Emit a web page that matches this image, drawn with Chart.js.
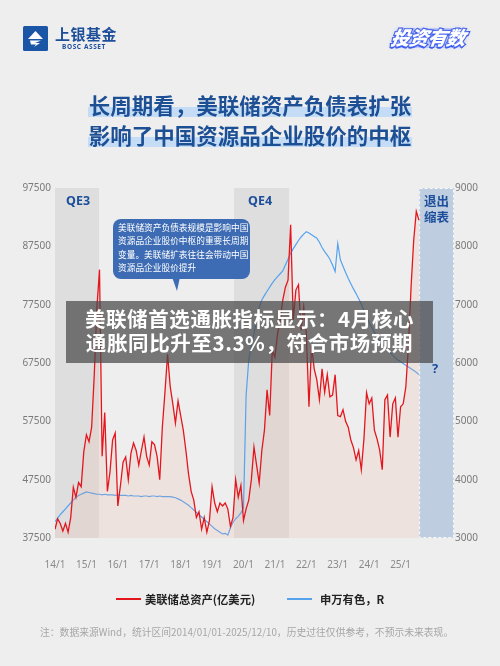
<!DOCTYPE html>
<html><head><meta charset="utf-8">
<script src="https://cdn.jsdelivr.net/npm/chart.js@4.4.0/dist/chart.umd.min.js"></script>
<style>
html,body{margin:0;padding:0;}
body{width:500px;height:666px;background:#eeeeee;position:relative;overflow:hidden;font-family:"Noto Sans CJK SC","Noto Sans",sans-serif;}
.abs{position:absolute;white-space:nowrap;}
#c{position:absolute;left:0;top:0;}
</style></head>
<body>
<canvas id="c" width="500" height="666"></canvas>

<!-- header -->
<svg class="abs" style="left:23px;top:26px" width="25" height="25" viewBox="0 0 25 25">
  <rect x="0" y="0" width="25" height="25" rx="1.5" fill="#1b55a6"/>
  <path d="M12.5 5 L20 13 L5 13 Z" fill="#fff"/>
  <path d="M7 14.5 L18 14.5 L12 17 L17 17 L11 21 L13 18.5 L8 18.5 Z" fill="#fff"/>
</svg>
<div class="abs" style="left:55px;top:24px;font-size:15px;font-weight:bold;color:#1d4e9a;letter-spacing:0.5px;line-height:20px">上银基金</div>
<div class="abs" style="left:62px;top:42px;font-size:6.5px;font-weight:bold;color:#1d4e9a;letter-spacing:0.6px;font-family:'Noto Sans',sans-serif;line-height:9px">BOSC ASSET</div>
<div class="abs" style="left:394px;top:28px;width:70px;height:20px;border-radius:8px;background:rgba(120,140,255,0.35)"></div>
<div class="abs" style="left:391px;top:24px;font-size:19px;font-weight:900;font-style:italic;color:#fff;-webkit-text-stroke:2.4px #2f4fe2;paint-order:stroke fill;text-shadow:0 2px 0 #3e5df0,0 0 4px #9fb5ff;line-height:26px;letter-spacing:-0.5px;transform:skewX(-8deg)">投资有数</div>

<!-- title -->
<div class="abs" style="left:88px;top:107px;width:324px;height:10px;background:#c4dcf6"></div>
<div class="abs" style="left:88px;top:137px;width:324px;height:10px;background:#c4dcf6"></div>
<div class="abs" style="left:0;top:91px;width:500px;text-align:center;font-size:21.5px;font-weight:bold;color:#1d4f95;line-height:28px">长周期看，美联储资产负债表扩张</div>
<div class="abs" style="left:0;top:121px;width:500px;text-align:center;font-size:21.5px;font-weight:bold;color:#1d4f95;line-height:28px">影响了中国资源品企业股价的中枢</div>

<!-- band labels -->
<div class="abs" style="left:66px;top:193px;font-size:12.5px;font-weight:bold;color:#1d4e9a;line-height:16px;font-family:'Noto Sans',sans-serif">QE3</div>
<div class="abs" style="left:248px;top:193px;font-size:12.5px;font-weight:bold;color:#1d4e9a;line-height:16px;font-family:'Noto Sans',sans-serif">QE4</div>
<div class="abs" style="left:424px;top:193px;font-size:12.5px;font-weight:bold;color:#1d4e9a;line-height:16px">退出<br>缩表</div>
<div class="abs" style="left:432px;top:360px;font-size:13px;font-weight:bold;color:#1d4e9a;line-height:16px;font-family:'Noto Sans',sans-serif">?</div>

<!-- bubble -->
<div class="abs" style="left:113px;top:219px;width:137px;height:60px;background:#3e6cb4;border-radius:8px"></div>
<svg class="abs" style="left:170px;top:277px" width="12" height="16"><path d="M2 0 L10 0 L7 14 Z" fill="#3e6cb4"/></svg>
<div class="abs" style="left:118px;top:221px;font-size:8.7px;color:#fff;line-height:13.4px">美联储资产负债表规模是影响中国<br>资源品企业股价中枢的重要长周期<br>变量。美联储扩表往往会带动中国<br>资源品企业股价提升</div>

<!-- overlay -->
<div class="abs" style="left:66px;top:301px;width:367px;height:62px;background:rgba(72,72,72,0.72)"></div>
<div class="abs" style="left:66px;top:306px;width:367px;text-align:center;font-size:20.5px;font-weight:bold;color:#fff;line-height:24px;letter-spacing:0.6px">美联储首选通胀指标显示：4月核心<br>通胀同比升至3.3%，符合市场预期</div>

<!-- legend -->
<div class="abs" style="left:116px;top:598px;width:25px;height:2px;background:#e3161e"></div>
<div class="abs" style="left:145px;top:591px;font-size:11.3px;font-weight:bold;color:#222;line-height:16px">美联储总资产(亿美元)</div>
<div class="abs" style="left:287px;top:598px;width:25px;height:2px;background:#57a2ee"></div>
<div class="abs" style="left:320px;top:591px;font-size:11.3px;font-weight:bold;color:#222;line-height:16px">申万有色，R</div>

<!-- footer -->
<div class="abs" style="left:40px;top:625px;font-size:9.8px;color:#a6a6a6;line-height:14px">注：数据来源Wind，统计区间2014/01/01-2025/12/10，历史过往仅供参考，不预示未来表现。</div>

<script>
// ---- data ----
const startYear = 2014;
const xTickLabels = ['14/1','15/1','16/1','17/1','18/1','19/1','20/1','21/1','22/1','23/1','24/1','25/1'];
const leftTicks = [37500, 47500, 57500, 67500, 77500, 87500, 97500];
const rightTicks = [3000, 4000, 5000, 6000, 7000, 8000, 9000];
// red series (monthly, right axis)
const redSeries = [
3150,3330,3250,3120,3250,3100,3350,3870,3700,3950,
3880,4480,4770,4650,4900,5800,6950,7600,4400,5150,
3800,4130,4680,4800,3550,3900,4300,4390,4000,4450,
4630,4500,4250,4500,4730,4400,4250,4650,4600,4400,
4000,4900,5500,6150,5600,5300,4970,5350,5100,4850,
4500,4100,3800,3650,3350,3450,3150,3350,3100,3300,
3880,3600,3450,3600,3550,3600,3500,3200,3350,4000,
3700,3900,3300,3500,3650,4000,4560,4250,3940,4500,
4850,5540,5100,6220,6100,6500,6740,7080,7300,7420,
8370,6740,7250,7340,6560,6960,6500,5250,6300,5900,
5710,5370,5900,5500,5800,5420,5450,5800,5100,5080,
5200,5000,4900,4680,4550,4340,4500,4170,4700,5490,
5300,5400,4850,4700,4510,4170,5370,5450,4730,5300,
5400,4730,5250,5300,5590,6300,7300,8100,8600,8450];
// blue series (monthly, left axis)
const blueSeries = [
40300,40900,41500,42000,42500,43000,43500,44000,44500,44800,
45000,45200,45400,45300,45200,45100,45000,45000,44900,45000,
44900,44900,44900,44800,44900,44800,44800,44800,44700,44800,
44700,44700,44700,44600,44700,44700,44600,44700,44700,44600,
44700,44600,44600,44600,44600,44500,44400,44200,44000,43700,
43400,43100,42700,42300,41900,41500,41100,40700,40300,39900,
39500,39100,38800,38500,38200,38300,38000,39200,40200,40800,
41200,41800,42600,62000,68000,70500,72500,75000,77000,78300,
79100,79800,80500,81200,81800,82300,82800,83300,84300,85300,
86300,87100,87800,88500,89100,89600,90000,89800,89500,89200,
88900,88200,87300,86600,86000,85300,84300,83200,88000,85200,
84100,83000,82000,81100,80200,79400,78500,77600,76500,75400,
74500,73600,72800,72000,71300,70800,70300,69800,69300,68800,
68400,68000,67700,67400,67100,66800,66500,66200,65900,65500];
// shaded periods (in years)
const bands = [
  {from: 2014.0, to: 2015.4, kind: 'qe'},
  {from: 2019.7, to: 2021.45, kind: 'qe'},
  {from: 2025.59, to: 2026.7, kind: 'exit'}
];

const toXY = arr => arr.map((v, i) => ({x: startYear + i / 12, y: v}));

const bandPlugin = {
  id: 'bands',
  beforeDatasetsDraw(chart) {
    const {ctx, chartArea, scales} = chart;
    ctx.save();
    bands.forEach(b => {
      const x1 = scales.x.getPixelForValue(b.from);
      const x2 = scales.x.getPixelForValue(b.to);
      if (b.kind === 'qe') {
        ctx.fillStyle = 'rgba(185,185,185,0.3)';
        ctx.fillRect(x1, chartArea.top, x2 - x1, chartArea.bottom - chartArea.top);
      } else {
        ctx.fillStyle = 'rgba(160,184,214,0.62)';
        ctx.fillRect(x1, chartArea.top, x2 - x1, chartArea.bottom - chartArea.top);
        ctx.strokeStyle = 'rgba(255,255,255,0.9)';
        ctx.lineWidth = 1;
        ctx.setLineDash([3, 2]);
        ctx.strokeRect(x1 + 0.5, chartArea.top + 0.5, x2 - x1 - 1, chartArea.bottom - chartArea.top - 1);
        ctx.setLineDash([]);
      }
    });
    ctx.restore();
  }
};

new Chart(document.getElementById('c'), {
  type: 'line',
  data: {
    datasets: [
      {
        label: '美联储总资产(亿美元)',
        data: toXY(redSeries),
        yAxisID: 'y1',
        borderColor: '#e3161e',
        borderWidth: 1.3,
        pointRadius: 0,
        tension: 0,
        fill: 'start',
        backgroundColor: 'rgba(240,165,140,0.16)'
      },
      {
        label: '申万有色，R',
        data: toXY(blueSeries),
        yAxisID: 'y',
        borderColor: '#57a2ee',
        borderWidth: 1.2,
        pointRadius: 0,
        tension: 0,
        fill: false
      }
    ]
  },
  options: {
    responsive: false,
    animation: false,
    devicePixelRatio: 1,
    layout: {padding: {top: 188, left: 0, right: 0, bottom: 0}},
    plugins: {legend: {display: false}, tooltip: {enabled: false}},
    scales: {
      x: {
        type: 'linear',
        min: 2014,
        max: 2026.7,
        grid: {display: false, drawTicks: false},
        border: {display: false},
        ticks: {
          stepSize: 1,
          autoSkip: false,
          maxRotation: 0,
          padding: 21,
          color: '#8a8a8a',
          font: {family: 'Noto Sans', size: 10},
          callback: v => xTickLabels[Math.round(v - startYear)] || ''
        },
        afterFit: s => { s.height = 128; }
      },
      y: {
        position: 'left',
        min: leftTicks[0],
        max: leftTicks[leftTicks.length - 1],
        grid: {display: false, drawTicks: false},
        border: {display: false},
        afterBuildTicks: s => { s.ticks = leftTicks.map(v => ({value: v})); },
        ticks: {padding: 4, color: '#7a7a7a', font: {family: 'Noto Sans', size: 10}, callback: v => String(v)},
        afterFit: s => { s.width = 55; }
      },
      y1: {
        position: 'right',
        min: rightTicks[0],
        max: rightTicks[rightTicks.length - 1],
        grid: {display: false, drawTicks: false},
        border: {display: false},
        afterBuildTicks: s => { s.ticks = rightTicks.map(v => ({value: v})); },
        ticks: {padding: 1, color: '#7a7a7a', font: {family: 'Noto Sans', size: 10}, callback: v => String(v)},
        afterFit: s => { s.width = 46; }
      }
    }
  },
  plugins: [bandPlugin]
});
</script>
</body></html>
